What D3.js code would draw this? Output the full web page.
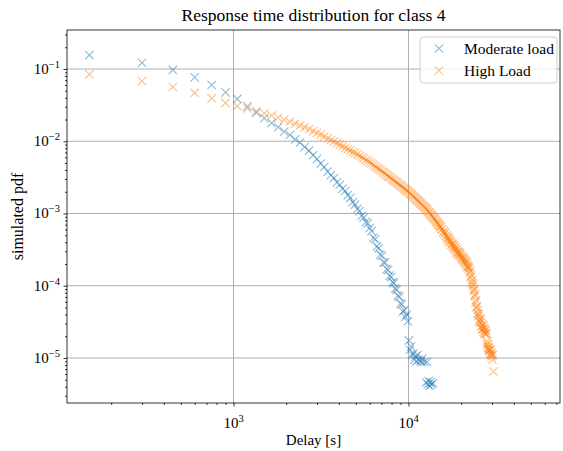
<!DOCTYPE html>
<html><head><meta charset="utf-8">
<script src="https://cdn.jsdelivr.net/npm/d3@7"></script>
<style>
body{margin:0;background:#fff;}
text{font-family:"Liberation Serif","DejaVu Serif",serif;fill:#000;}
</style></head>
<body><svg id="c" width="563" height="451"></svg>
<script>
const title = "Response time distribution for class 4";
const xLabel = "Delay [s]";
const yLabel = "simulated pdf";
const seriesNames = ["Moderate load", "High Load"];
const seriesColors = ["#1f77b4", "#ff7f0e"];
const xMajorExp = [3, 4];
const yMajorExp = [-1, -2, -3, -4, -5];

const moderateDelay = [150,300,450,600,750,900,1050,1200,1350,1500,1650,1800,1950,2100,2250,2400,2550,2700,2850,3000,
3150,3300,3450,3600,3750,3900,4050,4200,4350,4500,4650,4800,4950,5100,5250,5400,5550,5700,5850,6000,
6150,6300,6450,6600,6750,6900,7050,7200,7350,7500,7650,7800,7950,8100,8250,8400,8550,8700,8850,9000,
9150,9300,9450,9600,9750,9900,10050,10200,10350,10500,10650,10800,10950,11100,11250,11400,11700,11850,12000,12300,
12600,12750,12900,13050,13200,13350,13500,13800];
const moderatePdf = [0.156,0.122,0.097,0.0767,0.060,0.0475,0.0385,0.0304,0.0248,0.0208,0.0179,0.0157,0.0136,0.0122,0.0106,0.0096,0.0083,0.0074,0.0064,0.0057,
0.0049,0.0044,0.0038,0.0034,0.0031,0.0027,0.0025,0.0022,0.00205,0.0018,0.00165,0.00143,0.00133,0.00116,0.00108,0.00093,0.00088,0.00076,0.00073,0.00063,
0.00057,0.00046,0.00044,0.00035,0.00033,0.00027,0.00026,0.00021,0.00021,0.00017,0.000165,0.000138,0.000132,0.000112,0.000109,0.000091,0.000088,0.000073,0.00007,0.000057,
0.000055,0.000044,0.000046,0.000037,0.000040,0.000032,0.0000175,0.000013,0.0000145,0.000011,0.0000115,0.0000095,0.0000105,0.000009,0.000011,0.0000095,0.0000092,0.0000088,0.0000098,0.0000088,
0.0000046,0.0000088,0.0000043,0.0000048,0.0000041,0.0000046,0.0000043,0.0000045];

const highDelay = [150,300,450,600,750,900,1050,1200,1350,1500,1650,1800,1950,2100,2250,2400,2550,2700,2850,3000,
3150,3300,3450,3600,3750,3900,4050,4200,4350,4500,4650,4800,4950,5100,5250,5400,5550,5700,5850,6000,
6150,6300,6450,6600,6750,6900,7050,7200,7350,7500,7650,7800,7950,8100,8250,8400,8550,8700,8850,9000,
9150,9300,9450,9600,9750,9900,10050,10200,10350,10500,10650,10800,10950,11100,11250,11400,11550,11700,11850,12000,
12150,12300,12450,12600,12750,12900,13050,13200,13350,13500,13650,13800,13950,14100,14250,14400,14550,14700,14850,15000,
15150,15300,15450,15600,15750,15900,16050,16200,16350,16500,16650,16800,16950,17100,17250,17400,17550,17700,17850,18000,
18150,18300,18450,18600,18750,18900,19050,19200,19350,19500,19650,19800,19950,20100,20250,20400,20550,20700,20850,21000,
21150,21300,21450,21600,21750,21900,22050,22200,22350,22500,22650,22800,22950,23100,23250,23400,23550,23700,23850,24000,
24150,24300,24450,24600,24750,24900,25050,25200,25350,25500,25650,25800,25950,26100,26250,26400,26550,26700,26850,27000,
27150,27300,27450,27600,27750,27900,28050,28200,28350,28500,28650,28800,28950,29100,29250,29400,29550,29700,29850,30000,
30150,30300,30600];
const highPdf = [0.0845,0.068,0.0564,0.0466,0.0393,0.0339,0.0307,0.0284,0.0262,0.0244,0.0227,0.0212,0.0199,0.0186,0.0175,0.0165,0.0156,0.0147,0.0138,0.0130,
0.0124,0.0116,0.0110,0.0104,0.0099,0.0094,0.0089,0.0085,0.0081,0.0078,0.0075,0.0071,0.0069,0.0066,0.0063,0.0060,0.0058,0.0055,0.0053,0.0051,
0.0049,0.0047,0.0045,0.0043,0.00415,0.0040,0.00384,0.0037,0.00356,0.00343,0.0033,0.0032,0.00308,0.00297,0.00288,0.00278,0.00269,0.0026,0.00252,0.00244,
0.00237,0.00229,0.00222,0.00216,0.00209,0.00204,0.00197,0.0019,0.00185,0.00179,0.00173,0.00167,0.00162,0.00157,0.00152,0.00148,0.00143,0.00139,0.00135,0.00131,
0.00127,0.00124,0.0012,0.00117,0.00113,0.00109,0.00105,0.00102,0.00098,0.00095,0.00092,0.00089,0.00086,0.00084,0.00081,0.00078,0.00075,0.00073,0.0007,0.00068,
0.00064,0.00066,0.00060,0.00061,0.00055,0.00057,0.00052,0.00054,0.00048,0.00050,0.00045,0.00047,0.00042,0.00045,0.00040,0.00042,0.00037,0.00039,0.00035,0.00038,
0.00033,0.00036,0.00031,0.00034,0.00029,0.00032,0.00028,0.00030,0.00027,0.00029,0.00026,0.00028,0.00024,0.00026,0.00023,0.00025,0.00022,0.00024,0.00021,0.00023,
0.00020,0.00022,0.00019,0.00021,0.00018,0.00019,0.00017,0.00018,0.00015,0.00016,0.00013,0.00014,0.00011,0.00012,0.000098,0.000106,0.000085,0.000090,0.000072,0.000076,
0.000058,0.000063,0.000050,0.000052,0.000041,0.000046,0.000038,0.000041,0.000032,0.000035,0.000031,0.000034,0.000027,0.000031,0.000025,0.000029,0.000025,0.000028,0.000023,0.000026,
0.000022,0.000025,0.000022,0.000024,0.000021,0.000022,0.0000155,0.000017,0.000014,0.0000155,0.000013,0.000014,0.0000125,0.000013,0.000011,0.000013,0.0000115,0.000012,0.0000105,0.000011,
0.0000095,0.000011,0.0000065];

const m = {left: 67, right: 560, top: 30, bottom: 403};
const svg = d3.select("#c");

const x = d3.scaleLog().domain([111.8, 73400]).range([m.left, m.right]);
const y = d3.scaleLog().domain([2.383e-6, 0.3466]).range([m.bottom, m.top]);

const xMajor = xMajorExp.map(e => Math.pow(10, e));
const yMajor = yMajorExp.map(e => Math.pow(10, e));
function minorTicks(dom) {
  const out = [];
  const lo = Math.floor(Math.log10(dom[0])), hi = Math.ceil(Math.log10(dom[1]));
  for (let e = lo; e <= hi; e++) for (let k = 2; k <= 9; k++) {
    const v = k * Math.pow(10, e);
    if (v >= dom[0] && v <= dom[1]) out.push(v);
  }
  return out;
}

// grid
const g = svg.append("g");
g.selectAll(".gx").data(xMajor).enter().append("line")
  .attr("x1", d => x(d)).attr("x2", d => x(d)).attr("y1", m.top).attr("y2", m.bottom)
  .attr("stroke", "#b0b0b0").attr("stroke-width", 1);
g.selectAll(".gy").data(yMajor).enter().append("line")
  .attr("y1", d => y(d)).attr("y2", d => y(d)).attr("x1", m.left).attr("x2", m.right)
  .attr("stroke", "#b0b0b0").attr("stroke-width", 1);

// markers
const markerPath = "M-4.2,-4.2L4.2,4.2M-4.2,4.2L4.2,-4.2";
function drawSeries(xs, ys, color) {
  const data = xs.map((d, i) => [d, ys[i]]);
  svg.append("g").selectAll("path").data(data).enter().append("path")
    .attr("d", markerPath)
    .attr("transform", d => `translate(${x(d[0])},${y(d[1])})`)
    .attr("stroke", color).attr("stroke-opacity", 0.5).attr("stroke-width", 1.1).attr("fill", "none");
}
drawSeries(moderateDelay, moderatePdf, seriesColors[0]);
drawSeries(highDelay, highPdf, seriesColors[1]);

// axes
const xAxisMinor = d3.axisBottom(x).tickValues(minorTicks(x.domain())).tickSize(2).tickFormat("");
const xAxisMajor = d3.axisBottom(x).tickValues(xMajor).tickSize(3.5).tickFormat("");
const yAxisMinor = d3.axisLeft(y).tickValues(minorTicks(y.domain())).tickSize(2).tickFormat("");
const yAxisMajor = d3.axisLeft(y).tickValues(yMajor).tickSize(3.5).tickFormat("");

function styleAxis(sel) {
  sel.select(".domain").remove();
  sel.selectAll("line").attr("stroke", "#000").attr("stroke-width", 0.8);
}
svg.append("g").attr("transform", `translate(0,${m.bottom})`).call(xAxisMinor).call(styleAxis);
svg.append("g").attr("transform", `translate(0,${m.bottom})`).call(xAxisMajor).call(styleAxis);
svg.append("g").attr("transform", `translate(${m.left},0)`).call(yAxisMinor).call(styleAxis);
svg.append("g").attr("transform", `translate(${m.left},0)`).call(yAxisMajor).call(styleAxis);

// tick labels with superscripts
xMajorExp.forEach(e => {
  const t = svg.append("text").attr("x", x(Math.pow(10, e))).attr("y", 428)
    .attr("text-anchor", "middle").attr("font-size", 15);
  t.append("tspan").text("10");
  t.append("tspan").attr("dy", -6).attr("font-size", 10.5).text(String(e));
});
yMajorExp.forEach(e => {
  const t = svg.append("text").attr("x", 60).attr("y", y(Math.pow(10, e)) + 5)
    .attr("text-anchor", "end").attr("font-size", 15);
  t.append("tspan").text("10");
  t.append("tspan").attr("dy", -6).attr("font-size", 10.5).text("\u2212" + Math.abs(e));
});

// frame
svg.append("rect").attr("x", m.left).attr("y", m.top)
  .attr("width", m.right - m.left).attr("height", m.bottom - m.top)
  .attr("fill", "none").attr("stroke", "#000").attr("stroke-width", 0.8);

// labels
svg.append("text").attr("x", (m.left + m.right) / 2).attr("y", 21)
  .attr("text-anchor", "middle").attr("font-size", 17.5).text(title);
svg.append("text").attr("x", (m.left + m.right) / 2).attr("y", 445)
  .attr("text-anchor", "middle").attr("font-size", 15).text(xLabel);
svg.append("text").attr("transform", `translate(23,${(m.top + m.bottom) / 2}) rotate(-90)`)
  .attr("text-anchor", "middle").attr("font-size", 16).text(yLabel);

// legend
const lg = svg.append("g");
lg.append("rect").attr("x", 420).attr("y", 37).attr("width", 137).attr("height", 46)
  .attr("rx", 3).attr("fill", "#fff").attr("fill-opacity", 0.8)
  .attr("stroke", "#cccccc").attr("stroke-width", 1);
seriesNames.forEach((n, i) => {
  const yy = 48.5 + i * 22;
  lg.append("path").attr("d", markerPath).attr("transform", `translate(439,${yy})`)
    .attr("stroke", seriesColors[i]).attr("stroke-opacity", 0.5).attr("stroke-width", 1.1).attr("fill", "none");
  lg.append("text").attr("x", 464).attr("y", yy + 5).attr("font-size", 15.5).text(n);
});
</script></body></html>
